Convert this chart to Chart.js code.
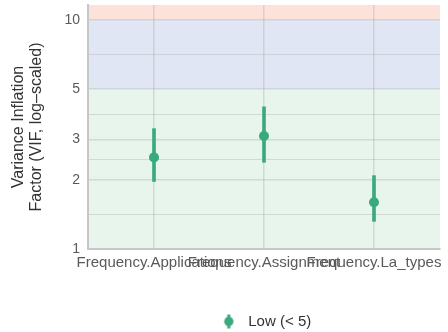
<!DOCTYPE html>
<html>
<head>
<meta charset="utf-8">
<script src="https://cdn.jsdelivr.net/npm/chart.js@4"></script>
<style>
  html, body { margin: 0; padding: 0; background: #ffffff; }
  #wrap { width: 448px; height: 332px; }
</style>
</head>
<body>
<div id="wrap"><canvas id="vif" width="448" height="332"></canvas></div>
<script>
// Terms and their VIF estimates with confidence intervals
const categories = ['Frequency.Applications', 'Frequency.Assignment', 'Frequency.La_types'];
const vifValues = [2.51, 3.11, 1.60];
const ciLower = [1.97, 2.39, 1.32];
const ciUpper = [3.35, 4.17, 2.09];

// Axis ticks: labelled major values plus unlabelled minor lines between them
const majorTicks = [1, 2, 3, 5, 10];
const minorTicks = [1.414, 2.449, 3.873, 7.071];

// Correlation zones (low / moderate / high)
const zoneBreaks = [1, 5, 10, 11.6];
const zoneColors = ['#e8f5ec', '#e1e6f4', '#fde2d9'];

const pointColor = '#3aaa7d';
const gridColor = 'rgba(175,175,175,0.4)';
const fontFamily = 'Liberation Sans, Arial, sans-serif';

// Legend marker: dot with a vertical interval line through it
const marker = document.createElement('canvas');
marker.width = 12; marker.height = 16;
(function () {
  const c = marker.getContext('2d');
  c.fillStyle = pointColor;
  c.fillRect(4.5, 1, 3, 14);
  c.beginPath();
  c.arc(6, 8, 4.7, 0, Math.PI * 2);
  c.fill();
})();

const zonePlugin = {
  id: 'zones',
  beforeDraw(chart) {
    const { ctx, chartArea, scales } = chart;
    const y = scales.y;
    ctx.save();
    for (let i = 0; i < zoneColors.length; i++) {
      const top = y.getPixelForValue(zoneBreaks[i + 1]);
      const bottom = y.getPixelForValue(zoneBreaks[i]);
      ctx.fillStyle = zoneColors[i];
      ctx.fillRect(chartArea.left, top, chartArea.right - chartArea.left, bottom - top);
    }
    ctx.restore();
  }
};

const positions = categories.map((_, i) => i + 1);

new Chart(document.getElementById('vif'), {
  data: {
    datasets: [
      {
        type: 'scatter',
        label: 'Low (< 5)',
        data: positions.map((x, i) => ({ x, y: vifValues[i] })),
        backgroundColor: pointColor,
        borderColor: pointColor,
        pointRadius: 5,
        borderWidth: 0,
        pointStyle: 'circle',
        order: 0
      },
      {
        type: 'bar',
        label: 'interval',
        data: positions.map((x, i) => ({ x, y: [ciLower[i], ciUpper[i]] })),
        backgroundColor: pointColor,
        borderWidth: 0,
        barThickness: 3,
        order: 1
      }
    ]
  },
  options: {
    responsive: false,
    animation: false,
    layout: { padding: { left: 0, right: 8, top: 5, bottom: -7 } },
    plugins: {
      tooltip: { enabled: false },
      legend: {
        position: 'bottom',
        fullSize: false,
        labels: {
          usePointStyle: true,
          pointStyle: marker,
          pointStyleWidth: 24,
          color: '#333333',
          font: { family: fontFamily, size: 15 },
          padding: 0,
          generateLabels(chart) {
            const ds = chart.data.datasets[0];
            return [{
              text: ds.label,
              pointStyle: marker,
              fillStyle: pointColor,
              strokeStyle: pointColor,
              lineWidth: 0,
              fontColor: '#333333',
              datasetIndex: 0
            }];
          }
        }
      }
    },
    scales: {
      x: {
        type: 'linear',
        offset: false,
        min: 0.4,
        max: 3.6,
        afterBuildTicks(scale) {
          scale.ticks = positions.map(v => ({ value: v }));
        },
        afterFit(scale) { scale.height = 65; },
        ticks: {
          autoSkip: false,
          maxRotation: 0,
          minRotation: 0,
          padding: 5,
          color: '#5a5a5a',
          font: { family: fontFamily, size: 15 },
          callback: v => categories[Math.round(v) - 1] || ''
        },
        grid: { offset: false, color: gridColor, lineWidth: 1.5, drawTicks: false },
        border: { display: true, color: '#c6c6c6', width: 2 }
      },
      y: {
        type: 'logarithmic',
        min: 1,
        max: 11.6,
        afterBuildTicks(scale) {
          scale.ticks = majorTicks.concat(minorTicks).sort((a, b) => a - b).map(v => ({ value: v }));
        },
        afterFit(scale) {
          scale.width = 88;
          scale.paddingTop = 0;
          scale.paddingBottom = 0;
        },
        ticks: {
          autoSkip: false,
          padding: 8,
          color: '#5a5a5a',
          font: { family: fontFamily, size: 14 },
          callback: v => (majorTicks.includes(v) ? String(v) : '')
        },
        grid: {
          color: gridColor,
          lineWidth: ctx => (ctx.tick && majorTicks.includes(ctx.tick.value) ? 1.6 : 1.1),
          drawTicks: false
        },
        border: { display: true, color: '#c6c6c6', width: 2 },
        title: {
          display: true,
          text: ['Variance Inflation', 'Factor (VIF, log\u2013scaled)'],
          color: '#333333',
          font: { family: fontFamily, size: 16, lineHeight: '18px' },
          padding: { top: 10, bottom: 0 }
        }
      }
    }
  },
  plugins: [zonePlugin]
});
</script>
</body>
</html>
